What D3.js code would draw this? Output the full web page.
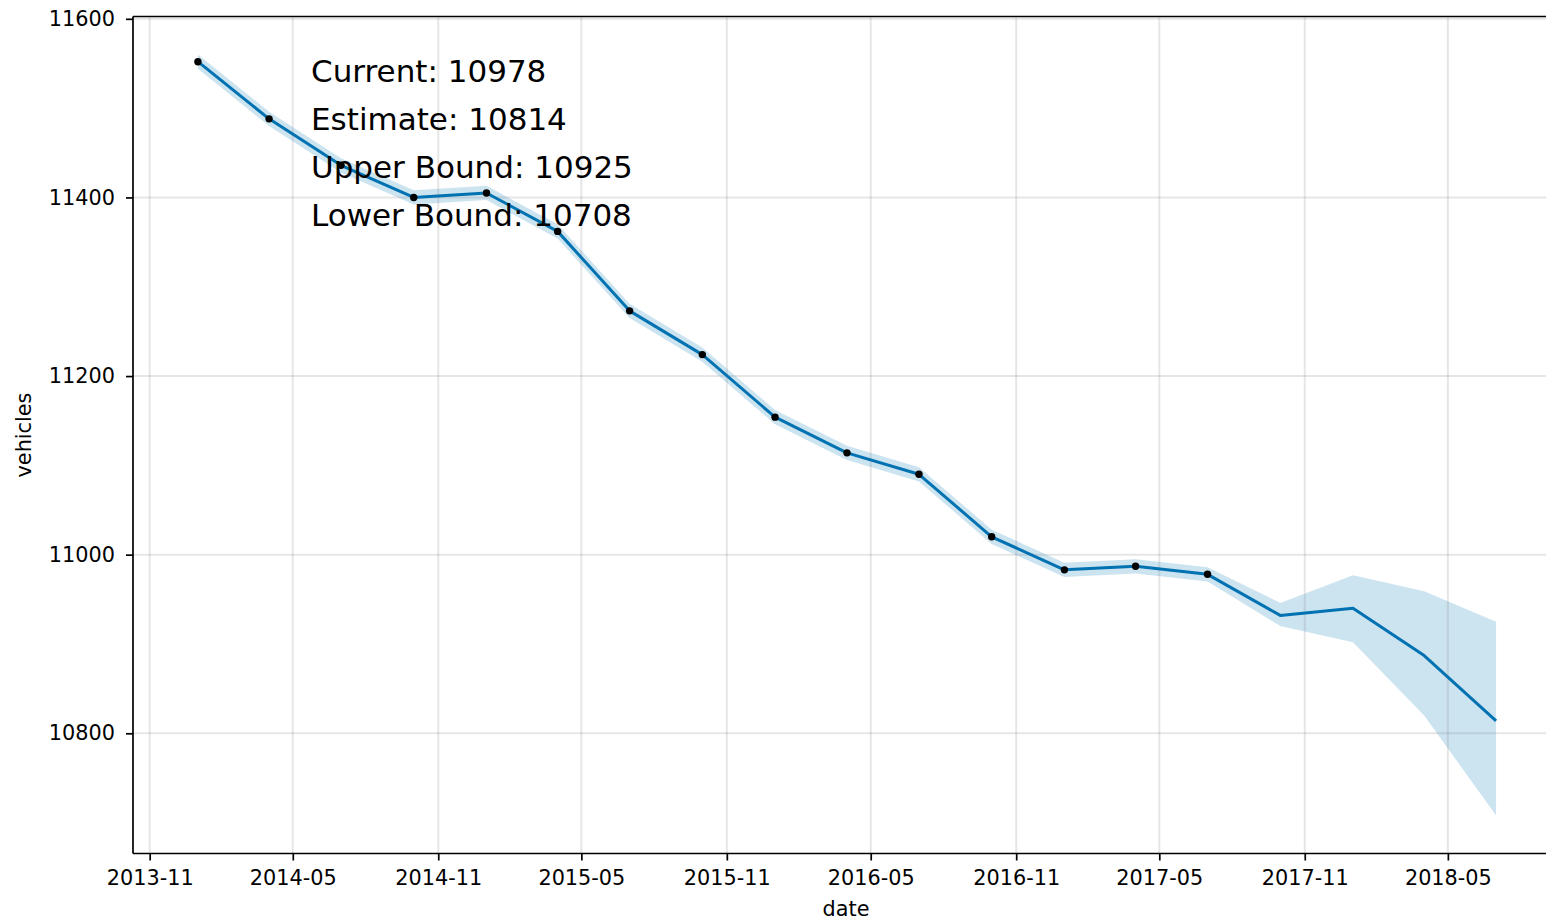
<!DOCTYPE html>
<html>
<head>
<meta charset="utf-8">
<script src="https://cdn.jsdelivr.net/npm/d3@7"></script>
<style>
  body { margin: 0; background: #fff; }
  svg { display: block; font-family: "DejaVu Sans", sans-serif; }
</style>
</head>
<body>
<svg id="chart" width="1546" height="920"></svg>
<script>
// observed history (black dots)
const historyDates = ["2014-01-01", "2014-04-01", "2014-07-01", "2014-10-01", "2015-01-01",
  "2015-04-01", "2015-07-01", "2015-10-01", "2016-01-01", "2016-04-01", "2016-07-01",
  "2016-10-01", "2017-01-01", "2017-04-01", "2017-07-01"];
const historyValues = [11552, 11488, 11436, 11400, 11405, 11362, 11273, 11224, 11154,
  11114, 11090, 11020, 10983, 10987, 10978];

// forecast (line + interval band)
const forecastDates = ["2014-01-01", "2014-04-01", "2014-07-01", "2014-10-01", "2015-01-01",
  "2015-04-01", "2015-07-01", "2015-10-01", "2016-01-01", "2016-04-01", "2016-07-01",
  "2016-10-01", "2017-01-01", "2017-04-01", "2017-07-01", "2017-10-01", "2018-01-01",
  "2018-04-01", "2018-07-01"];
const yhat = [11552, 11488, 11436, 11400, 11405, 11362, 11273, 11224, 11154, 11114,
  11090, 11020, 10983, 10987, 10978, 10932, 10940, 10887, 10814];
const yhatUpper = [11560, 11496, 11444, 11408, 11413, 11370, 11281, 11232, 11162, 11122,
  11098, 11028, 10991, 10995, 10986, 10946, 10977, 10959, 10925];
const yhatLower = [11544, 11480, 11428, 11392, 11397, 11354, 11265, 11216, 11146, 11106,
  11082, 11012, 10975, 10979, 10970, 10920, 10902, 10820, 10708];

const xTickLabels = ["2013-11", "2014-05", "2014-11", "2015-05", "2015-11", "2016-05",
  "2016-11", "2017-05", "2017-11", "2018-05"];
const yTickValues = [10800, 11000, 11200, 11400, 11600];

const annotations = ["Current: 10978", "Estimate: 10814", "Upper Bound: 10925", "Lower Bound: 10708"];

const parseDay = d3.utcParse("%Y-%m-%d");
const parseMonth = d3.utcParse("%Y-%m");

const history = historyDates.map((d, i) => ({ ds: parseDay(d), y: historyValues[i] }));
const fcst = forecastDates.map((d, i) => ({
  ds: parseDay(d), yhat: yhat[i], upper: yhatUpper[i], lower: yhatLower[i]
}));

const plot = { left: 133, top: 16.5, right: 1561, bottom: 853.5 };

const svg = d3.select("#chart");

// 5% padding on both axes, matplotlib style
const [x0, x1] = d3.extent(fcst, (d) => d.ds);
const xPad = (x1 - x0) * 0.05;
const x = d3.scaleUtc()
  .domain([new Date(+x0 - xPad), new Date(+x1 + xPad)])
  .range([plot.left, plot.right]);

const yMin = d3.min(fcst, (d) => d.lower);
const yMax = d3.max(fcst, (d) => d.upper);
const yPad = (yMax - yMin) * 0.05;
const y = d3.scaleLinear()
  .domain([yMin - yPad, yMax + yPad])
  .range([plot.bottom, plot.top]);

const xTicks = xTickLabels.map(parseMonth);

// band
svg.append("path")
  .datum(fcst)
  .attr("fill", "#0072B2")
  .attr("fill-opacity", 0.2)
  .attr("d", d3.area().x((d) => x(d.ds)).y0((d) => y(d.lower)).y1((d) => y(d.upper)));

// grid
const grid = svg.append("g");
grid.selectAll(".vgrid")
  .data(xTicks)
  .enter()
  .append("line")
  .attr("x1", (d) => x(d)).attr("x2", (d) => x(d))
  .attr("y1", plot.top).attr("y2", plot.bottom)
  .attr("stroke", "gray").attr("stroke-opacity", 0.2).attr("stroke-width", 2);
grid.selectAll(".hgrid")
  .data(yTickValues)
  .enter()
  .append("line")
  .attr("x1", plot.left).attr("x2", plot.right)
  .attr("y1", (d) => y(d)).attr("y2", (d) => y(d))
  .attr("stroke", "gray").attr("stroke-opacity", 0.2).attr("stroke-width", 2);

// forecast line
svg.append("path")
  .datum(fcst)
  .attr("fill", "none")
  .attr("stroke", "#0072B2")
  .attr("stroke-width", 3)
  .attr("stroke-linejoin", "round")
  .attr("d", d3.line().x((d) => x(d.ds)).y((d) => y(d.yhat)));

// observed points
svg.selectAll(".dot")
  .data(history)
  .enter()
  .append("circle")
  .attr("cx", (d) => x(d.ds))
  .attr("cy", (d) => y(d.y))
  .attr("r", 3.7)
  .attr("fill", "#000");

// axes
const xAxis = svg.append("g")
  .attr("transform", `translate(0,${plot.bottom})`)
  .call(d3.axisBottom(x).tickValues(xTicks).tickFormat(d3.utcFormat("%Y-%m")).tickSizeOuter(0).tickSize(7).tickPadding(10));
const yAxis = svg.append("g")
  .attr("transform", `translate(${plot.left},0)`)
  .call(d3.axisLeft(y).tickValues(yTickValues).tickFormat(d3.format("d")).tickSizeOuter(0).tickSize(7).tickPadding(11));

[xAxis, yAxis].forEach((a) => {
  a.select(".domain").remove();
  a.selectAll("line").attr("stroke", "#000").attr("stroke-width", 1.7);
  a.selectAll("text")
    .attr("fill", "#000")
    .style("font-family", "'DejaVu Sans', sans-serif")
    .style("font-size", "20.8px");
});

// spines
svg.append("line").attr("x1", plot.left).attr("x2", plot.right)
  .attr("y1", plot.bottom).attr("y2", plot.bottom)
  .attr("stroke", "#000").attr("stroke-width", 1.7);
svg.append("line").attr("x1", plot.left).attr("x2", plot.right)
  .attr("y1", plot.top).attr("y2", plot.top)
  .attr("stroke", "#000").attr("stroke-width", 1.7);
svg.append("line").attr("x1", plot.left).attr("x2", plot.left)
  .attr("y1", plot.top).attr("y2", plot.bottom)
  .attr("stroke", "#000").attr("stroke-width", 1.7);
svg.append("line").attr("x1", plot.right).attr("x2", plot.right)
  .attr("y1", plot.top).attr("y2", plot.bottom)
  .attr("stroke", "#000").attr("stroke-width", 1.7);

// axis labels
svg.append("text")
  .attr("x", (plot.left + plot.right) / 2 - 1)
  .attr("y", 916)
  .attr("text-anchor", "middle")
  .style("font-size", "20.8px")
  .text("date");
svg.append("text")
  .attr("transform", `translate(31,${(plot.top + plot.bottom) / 2}) rotate(-90)`)
  .attr("text-anchor", "middle")
  .style("font-size", "20.8px")
  .text("vehicles");

// summary text
svg.selectAll(".note")
  .data(annotations)
  .enter()
  .append("text")
  .attr("x", 311)
  .attr("y", (d, i) => 82 + i * 48)
  .style("font-size", "31px")
  .attr("fill", "#000")
  .text((d) => d);
</script>
</body>
</html>
